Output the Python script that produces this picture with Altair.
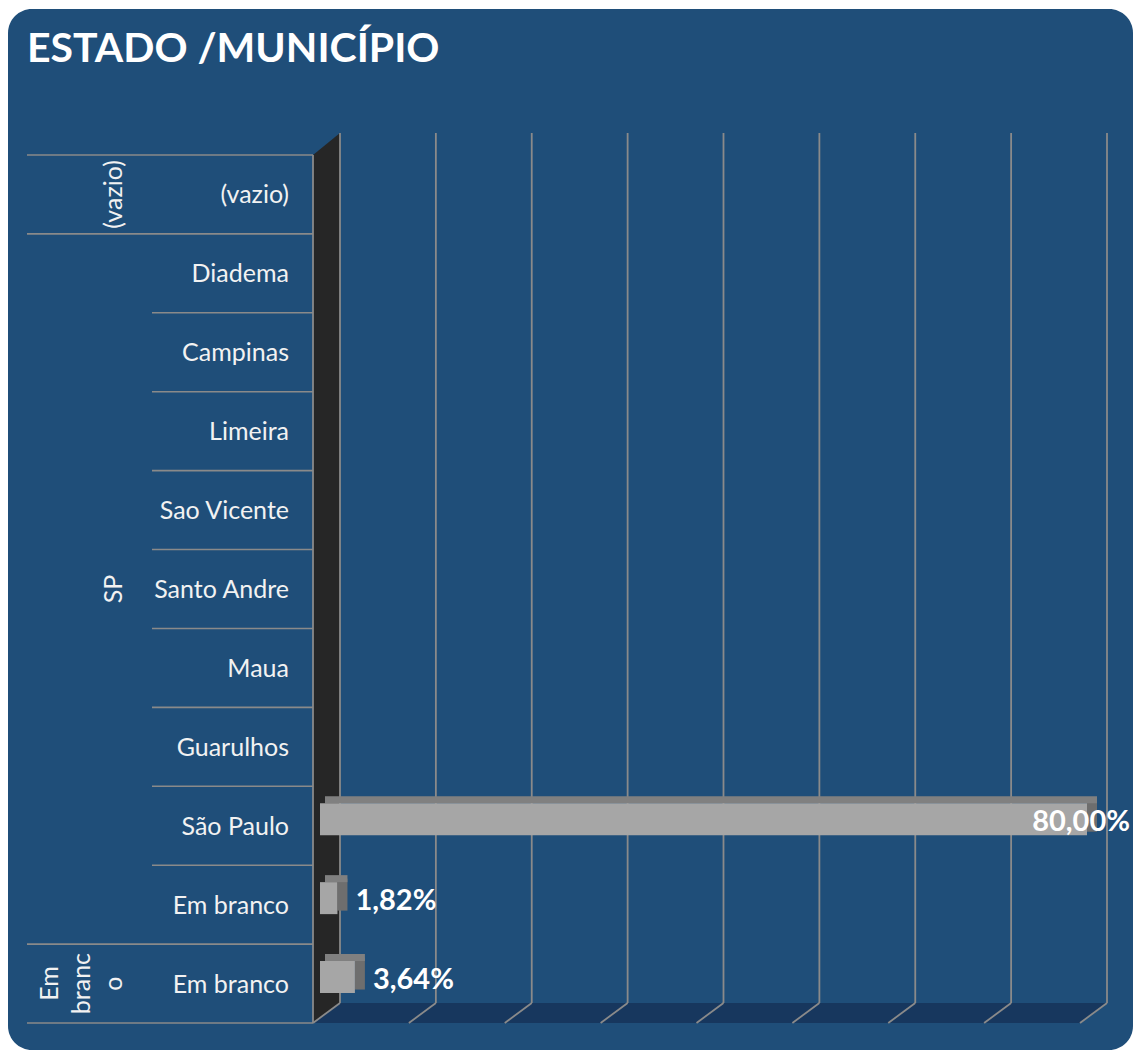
import altair as alt
import pandas as pd

# ---------------- data ----------------
title = "ESTADO /MUNICÍPIO"
municipios = ["(vazio)", "Diadema", "Campinas", "Limeira", "Sao Vicente",
              "Santo Andre", "Maua", "Guarulhos", "São Paulo", "Em branco", "Em branco"]
estados = ["(vazio)", "SP", "SP", "SP", "SP", "SP", "SP", "SP", "SP", "SP", "Em branco"]
valores = [None, None, None, None, None, None, None, None, 0.80, 0.0182, 0.0364]
estado_labels = ["(vazio)", "SP", "Em\nbranc\no"]
x_ticks = [0.0, 0.1, 0.2, 0.3, 0.4, 0.5, 0.6, 0.7, 0.8]

# ---------------- tables ----------------
n = len(municipios)
df = pd.DataFrame({"mun": municipios, "est": estados, "valor": valores})
df["row"] = range(n)
df["yc"] = df["row"] + 0.5

bars = df.dropna(subset=["valor"]).copy()
bars["zero"] = 0.0
bars["label"] = bars["valor"].map(lambda v: f"{v * 100:.2f}%".replace(".", ","))

groups = []
for i, e in enumerate(estados):
    if not groups or groups[-1][0] != e:
        groups.append([e, i, i])
    else:
        groups[-1][2] = i
grp = pd.DataFrame({
    "est": [g[0] for g in groups],
    "yc": [(g[1] + g[2] + 1) / 2 for g in groups],
    "label": estado_labels,
})
grp["multi"] = grp["label"].str.contains("\n")

bounds = pd.DataFrame({"k": list(range(n + 1))})
bounds["kind"] = ["group" if (k == 0 or k == n or estados[k] != estados[k - 1]) else "inner"
                  for k in range(n + 1)]

ticks = pd.DataFrame({"t": x_ticks})
ticks["top"] = 0
ticks["bot"] = n

anchor = pd.DataFrame({"t": [0.0], "k": [n]})
one = pd.DataFrame({"a": [0]})

# ---------------- styling ----------------
FONT = "Lato"
CARD = "#1F4E79"
FLOOR = "#17375E"
WALL = "#262626"
GRID = "#8A8A8A"
TXT = "#F2F2F2"
LAB_SIZE = 25
LINE_H = 32

xs = alt.Scale(domain=[0, 0.8], range=[312, 1079], nice=False, zero=False)
ys = alt.Scale(domain=[0, n], range=[147, 1015], nice=False, zero=False)

card = alt.Chart(one).mark_rect(color=CARD, cornerRadius=24).encode(
    x=alt.value(0), x2=alt.value(1125), y=alt.value(1), y2=alt.value(1042))

floor = alt.Chart(anchor).mark_point(
    shape="M0,0 L27,-20 L794,-20 L767,0 Z", size=4, filled=True,
    color=FLOOR, opacity=1, strokeWidth=0, xOffset=-7).encode(
    x=alt.X("t:Q", scale=xs, axis=None), y=alt.Y("k:Q", scale=ys, axis=None))

wall = alt.Chart(anchor).mark_point(
    shape="M0,0 L0,-868 L27,-890 L27,-20 Z", size=4, filled=True,
    color=WALL, opacity=1, strokeWidth=0, xOffset=-7).encode(
    x=alt.X("t:Q", scale=xs, axis=None), y=alt.Y("k:Q", scale=ys, axis=None))

grid_v = alt.Chart(ticks).mark_rule(color=GRID, strokeWidth=1.8, xOffset=20, x2Offset=20,
                                    yOffset=-22, y2Offset=-20).encode(
    x=alt.X("t:Q", scale=xs, axis=None), x2="t:Q",
    y=alt.Y("top:Q", scale=ys, axis=None), y2="bot:Q")

grid_d = alt.Chart(ticks).mark_rule(color=GRID, strokeWidth=1.8, xOffset=20, x2Offset=-7,
                                    yOffset=-20, y2Offset=0).encode(
    x=alt.X("t:Q", scale=xs, axis=None), x2="t:Q",
    y=alt.Y("bot:Q", scale=ys, axis=None), y2="bot:Q")

wall_edge = alt.Chart(anchor).mark_rule(color=GRID, strokeWidth=1.8, xOffset=-7, x2Offset=-7).encode(
    x=alt.X("t:Q", scale=xs, axis=None), x2="t:Q",
    y=alt.Y("k:Q", scale=ys, axis=None), y2=alt.datum(0))

sep_group = alt.Chart(bounds).transform_filter(alt.datum.kind == "group").mark_rule(
    color=GRID, strokeWidth=1.6).encode(
    y=alt.Y("k:Q", scale=ys, axis=None), x=alt.value(19), x2=alt.value(305))

sep_inner = alt.Chart(bounds).transform_filter(alt.datum.kind == "inner").mark_rule(
    color=GRID, strokeWidth=1.6).encode(
    y=alt.Y("k:Q", scale=ys, axis=None), x=alt.value(144), x2=alt.value(305))

mun_text = alt.Chart(df).mark_text(align="right", baseline="middle", font=FONT,
                                   fontSize=LAB_SIZE, color=TXT, dy=1).encode(
    y=alt.Y("yc:Q", scale=ys, axis=None), x=alt.value(281), text="mun:N")

est_single = alt.Chart(grp).transform_filter("!datum.multi").mark_text(
    align="center", baseline="alphabetic", font=FONT, fontSize=LAB_SIZE, color=TXT,
    angle=270).encode(
    y=alt.Y("yc:Q", scale=ys, axis=None), x=alt.value(114), text="label:N")

est_multi = alt.Chart(grp).transform_filter("datum.multi").mark_text(
    align="center", baseline="alphabetic", font=FONT, fontSize=LAB_SIZE, color=TXT,
    angle=270, lineBreak="\n", lineHeight=LINE_H).encode(
    y=alt.Y("yc:Q", scale=ys, axis=None), x=alt.value(114 - 2 * LINE_H), text="label:N")

side = alt.Chart(bars).mark_rect(color="#6E6E6E", x2Offset=10, yOffset=-26, y2Offset=6).encode(
    x=alt.X("valor:Q", scale=xs, axis=None), x2="valor:Q",
    y=alt.Y("yc:Q", scale=ys, axis=None), y2="yc:Q")

top = alt.Chart(bars).mark_rect(color="#808080", xOffset=5, x2Offset=10,
                                yOffset=-29.5, y2Offset=-22.5).encode(
    x=alt.X("zero:Q", scale=xs, axis=None), x2="valor:Q",
    y=alt.Y("yc:Q", scale=ys, axis=None), y2="yc:Q")

front = alt.Chart(bars).mark_rect(color="#A6A6A6", yOffset=-22.5, y2Offset=9.5).encode(
    x=alt.X("zero:Q", scale=xs, axis=None), x2="valor:Q",
    y=alt.Y("yc:Q", scale=ys, axis=None), y2="yc:Q")

lab_small = alt.Chart(bars).transform_filter(alt.datum.valor < 0.5).mark_text(
    align="left", baseline="middle", font=FONT, fontSize=29, fontWeight="bold",
    color="white", dx=18, dy=-4).encode(
    x=alt.X("valor:Q", scale=xs, axis=None), y=alt.Y("yc:Q", scale=ys, axis=None),
    text="label:N")

lab_big = alt.Chart(bars).transform_filter(alt.datum.valor >= 0.5).mark_text(
    align="right", baseline="middle", font=FONT, fontSize=29, fontWeight="bold",
    color="white", dx=43, dy=-4).encode(
    x=alt.X("valor:Q", scale=xs, axis=None), y=alt.Y("yc:Q", scale=ys, axis=None),
    text="label:N")

title_text = alt.Chart(pd.DataFrame({"t": [title]})).mark_text(
    align="left", baseline="alphabetic", font=FONT, fontSize=41, fontWeight="bold",
    color="white").encode(x=alt.value(19), y=alt.value(54), text="t:N")

chart = alt.layer(
    card, floor, wall, grid_v, grid_d, wall_edge, sep_group, sep_inner,
    mun_text, est_single, est_multi, side, top, front, lab_small, lab_big, title_text
).properties(
    width=1125, height=1042, padding=0,
    autosize=alt.AutoSizeParams(type="none"),
    background="white",
).configure_view(stroke=None)

chart.save("out.html", embed_options={"renderer": "svg", "actions": False})
